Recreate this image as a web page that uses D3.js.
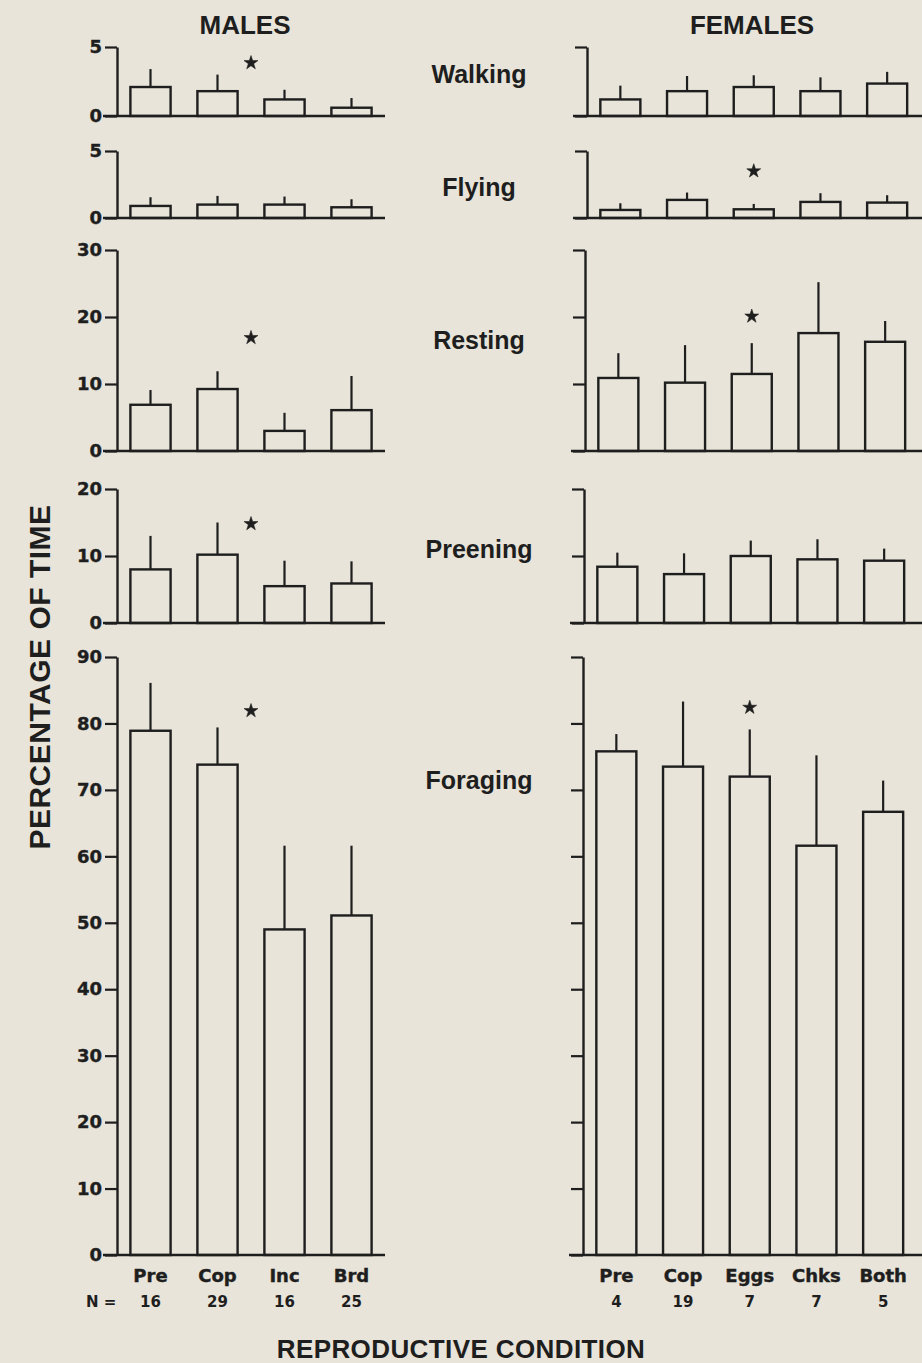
<!DOCTYPE html>
<html>
<head>
<meta charset="utf-8">
<script src="https://cdn.jsdelivr.net/npm/d3@7"></script>
<style>
  body { margin: 0; background: #e8e4d9; }
  svg { display: block; }
  .tick text { font-family: "DejaVu Sans", sans-serif; font-weight: bold; fill: #1e1e1e; }
  .lbl { font-family: "Liberation Sans", Arial, sans-serif; font-weight: bold; fill: #1e1e1e; }
</style>
</head>
<body>
<div id="chart"></div>
<script>
// data
const behaviors = ['Walking', 'Flying', 'Resting', 'Preening', 'Foraging'];
const yMax = [5, 5, 30, 20, 90];
const yStep = [5, 5, 10, 10, 10];

const maleConds = ['Pre', 'Cop', 'Inc', 'Brd'];
const maleN = [16, 29, 16, 25];
const femaleConds = ['Pre', 'Cop', 'Eggs', 'Chks', 'Both'];
const femaleN = [4, 19, 7, 7, 5];

// mean % of time, one row per behaviour
const maleMean = [
  [2.1, 1.8, 1.2, 0.6],
  [0.9, 1.0, 1.0, 0.8],
  [6.9, 9.25, 3.0, 6.1],
  [8.0, 10.2, 5.5, 5.9],
  [78.9, 73.8, 49.0, 51.1],
];
const maleSD = [
  [1.3, 1.2, 0.7, 0.7],
  [0.65, 0.65, 0.6, 0.6],
  [2.2, 2.65, 2.7, 5.1],
  [5.0, 4.8, 3.8, 3.3],
  [7.2, 5.6, 12.6, 10.5],
];
const femaleMean = [
  [1.2, 1.8, 2.1, 1.8, 2.35],
  [0.6, 1.35, 0.65, 1.2, 1.15],
  [10.9, 10.2, 11.5, 17.6, 16.3],
  [8.4, 7.3, 10.0, 9.5, 9.3],
  [75.8, 73.5, 72.0, 61.6, 66.7],
];
const femaleSD = [
  [1.0, 1.1, 0.85, 1.0, 0.85],
  [0.5, 0.55, 0.4, 0.65, 0.55],
  [3.7, 5.6, 4.6, 7.6, 3.1],
  [2.1, 3.1, 2.3, 3.0, 1.8],
  [2.6, 9.8, 7.1, 13.6, 4.7],
];
// significance stars (height in data units, null = none)
const maleStar = [3.85, null, 16.9, 14.8, 81.9];
const femaleStar = [null, 3.5, 20.1, null, 82.4];

// layout
const width = 922, height = 1363;
const ink = '#1e1e1e';
const rowTop = [47, 151, 250, 489, 657];
const rowZero = [116, 218, 451, 623, 1255];
const labelY = [83, 196, 349, 558, 789];
const femaleShift = [4, 4, 2, 1, 0]; // the scan is slightly skewed
const maleAxisX = 117, maleRight = 385;
const femaleAxisX = 583, femaleRight = 922;

const svg = d3.select('#chart').append('svg')
  .attr('width', width)
  .attr('height', height);

svg.append('rect').attr('width', width).attr('height', height).attr('fill', '#e8e4d9');

function drawPanel(i, conds, means, sds, star, axisX, bandEnd, lineEnd, showNumbers, starPos) {
  const y = d3.scaleLinear().domain([0, yMax[i]]).range([rowZero[i], rowTop[i]]);
  const x = d3.scaleBand().domain(conds).range([axisX, bandEnd])
    .paddingInner(0.4).paddingOuter(0.2);

  const g = svg.append('g');

  // baseline
  g.append('line')
    .attr('x1', axisX - 14).attr('x2', lineEnd)
    .attr('y1', y(0)).attr('y2', y(0))
    .attr('stroke', ink).attr('stroke-width', 2.4);

  // y axis
  const yAxis = d3.axisLeft(y)
    .tickValues(d3.range(0, yMax[i] + 1, yStep[i]))
    .tickSize(12).tickSizeOuter(0).tickPadding(3)
    .tickFormat(showNumbers ? d3.format('d') : '');
  const ag = g.append('g').attr('transform', `translate(${axisX},0)`).call(yAxis);
  ag.select('.domain').attr('stroke', ink).attr('stroke-width', 2.4);
  ag.selectAll('.tick line').attr('stroke', ink).attr('stroke-width', 2.2);
  ag.selectAll('.tick text').style('font-size', '18px')
    .attr('stroke', ink).attr('stroke-width', 0.4);

  // bars
  g.selectAll('rect.bar').data(conds).join('rect')
    .attr('class', 'bar')
    .attr('x', (d) => x(d))
    .attr('width', x.bandwidth())
    .attr('y', (d, j) => y(means[j]))
    .attr('height', (d, j) => y(0) - y(means[j]))
    .attr('fill', 'none')
    .attr('stroke', ink).attr('stroke-width', 2.4);

  // error bars (upper only)
  g.selectAll('line.err').data(conds).join('line')
    .attr('class', 'err')
    .attr('x1', (d) => x(d) + x.bandwidth() / 2)
    .attr('x2', (d) => x(d) + x.bandwidth() / 2)
    .attr('y1', (d, j) => y(means[j]))
    .attr('y2', (d, j) => y(means[j] + sds[j]))
    .attr('stroke', ink).attr('stroke-width', 2.2);

  if (star[i] != null) {
    g.append('path')
      .attr('d', d3.symbol(d3.symbolStar, 60)())
      .attr('transform', `translate(${starPos(x)},${y(star[i])})`)
      .attr('fill', ink).attr('stroke', ink).attr('stroke-width', 0.6);
  }
  return x;
}

let mx, fx;
behaviors.forEach((b, i) => {
  mx = drawPanel(i, maleConds, maleMean[i], maleSD[i], maleStar,
    maleAxisX, maleRight, maleRight, true,
    (x) => (x('Cop') + x.bandwidth() + x('Inc')) / 2);
  const s = femaleShift[i];
  fx = drawPanel(i, femaleConds, femaleMean[i], femaleSD[i], femaleStar,
    femaleAxisX + s, femaleAxisX + s + 333.5, femaleRight, false,
    (x) => x('Eggs') + x.bandwidth() / 2);

  svg.append('text').attr('class', 'lbl')
    .attr('x', 479).attr('y', labelY[i])
    .attr('text-anchor', 'middle')
    .style('font-size', '25px')
    .text(b);
});

// category axes under the foraging panels
function catAxis(x, conds, nums) {
  const base = rowZero[4];
  const ax = svg.append('g').attr('transform', `translate(0,${base})`)
    .call(d3.axisBottom(x).tickSize(0).tickPadding(14));
  ax.select('.domain').remove();
  ax.selectAll('.tick text').style('font-size', '18px')
    .attr('stroke', ink).attr('stroke-width', 0.4);

  svg.append('g').selectAll('text').data(conds).join('text')
    .attr('x', (d) => x(d) + x.bandwidth() / 2)
    .attr('y', base + 52)
    .attr('text-anchor', 'middle')
    .style('font-family', '"DejaVu Sans", sans-serif')
    .style('font-weight', 'bold')
    .style('font-size', '15px')
    .attr('fill', ink)
    .text((d, j) => nums[j]);
}
catAxis(mx, maleConds, maleN);
catAxis(fx, femaleConds, femaleN);

svg.append('text')
  .attr('x', 86).attr('y', rowZero[4] + 52)
  .style('font-family', '"DejaVu Sans", sans-serif')
  .style('font-weight', 'bold')
  .style('font-size', '15px')
  .attr('fill', ink)
  .text('N =');

// titles
svg.append('text').attr('class', 'lbl')
  .attr('x', 245).attr('y', 34).attr('text-anchor', 'middle')
  .style('font-size', '26px').text('MALES');
svg.append('text').attr('class', 'lbl')
  .attr('x', 752).attr('y', 34).attr('text-anchor', 'middle')
  .style('font-size', '26px').text('FEMALES');

svg.append('text').attr('class', 'lbl')
  .attr('x', 461).attr('y', 1358).attr('text-anchor', 'middle')
  .style('font-size', '26px').style('letter-spacing', '0.4px')
  .text('REPRODUCTIVE CONDITION');

svg.append('text').attr('class', 'lbl')
  .attr('transform', 'translate(50,677) rotate(-90)')
  .attr('text-anchor', 'middle')
  .style('font-size', '30px').style('letter-spacing', '0.5px')
  .text('PERCENTAGE OF TIME');
</script>
</body>
</html>
